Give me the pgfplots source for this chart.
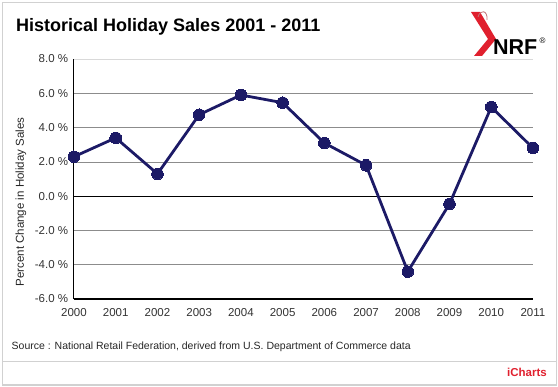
\documentclass[border=0pt]{standalone}
\usepackage{pgfplots}
\pgfplotsset{compat=1.18}
\usepackage{fontspec}
\setmainfont{Liberation Sans}
\definecolor{navy}{HTML}{1C1A66}
\definecolor{nrfred}{HTML}{E0202E}
\begin{document}
\begin{tikzpicture}
\begin{scope}[x=1pt,y=1pt]
\useasboundingbox (0,0) rectangle (558,-387);
\draw[black!18, line width=1.2pt] (2.5,-2.5) rectangle (556.5,-385);
\draw[black!18, line width=1pt] (2.5,-361.7) -- (556.5,-361.7);
\node[anchor=base west, font=\bfseries\fontsize{18}{20}\selectfont, inner sep=0] at (16,-31.7) {Historical Holiday Sales 2001 - 2011};
% logo
\fill[nrfred] (471,-12) -- (480,-12) -- (496,-39) -- (482,-56) -- (474,-56) -- (488,-39) -- cycle;
\draw[nrfred!70!black!60, line width=0.8pt] (478,-17) .. controls (480,-9) and (488,-10) .. (487,-20);
\node[anchor=base west, font=\bfseries\fontsize{21.5}{23}\selectfont, inner sep=0] at (493,-55) {NRF};
\node[anchor=base west, font=\fontsize{8}{9}\selectfont, inner sep=0] at (539.5,-44) {\textregistered};
\node[anchor=base west, font=\fontsize{10.5}{12}\selectfont, text=black!85, inner sep=0] at (11.5,-349.3) {Source : National Retail Federation, derived from U.S. Department of Commerce data};
\node[anchor=base east, font=\bfseries\fontsize{11.5}{13}\selectfont, text=nrfred, inner sep=0] at (547,-376.7) {iCharts};
\end{scope}
\begin{axis}[
  at={(74pt,-299pt)}, anchor=south west,
  scale only axis, width=459pt, height=240pt,
  xmin=2000, xmax=2011, ymin=-6, ymax=8,
  xtick={2000,...,2011},
  ytick={-6,-4,...,8},
  xticklabel style={/pgf/number format/1000 sep={}, font=\fontsize{11.5}{13}\selectfont, text=black!80},
  x tick label style={/pgf/number format/assume math mode=true},
  y tick label style={font=\fontsize{11.5}{13}\selectfont, text=black!80},
  yticklabel={\pgfmathprintnumber[fixed,fixed zerofill,precision=1,assume math mode=true]{\tick}~\%},
  ylabel={Percent Change in Holiday Sales},
  ylabel style={font=\fontsize{11.5}{13}\selectfont, text=black!85, at={(axis description cs:-0.1155,0.404)}, anchor=center},
  axis x line=bottom, axis y line=left,
  x axis line style={-, line width=1.6pt},
  y axis line style={-, line width=1pt},
  major tick length=0pt,
  ymajorgrids, grid style={black!45, line width=0.7pt},
  clip=false,
  tick label style={inner sep=2pt},
  xticklabel style={yshift=-7.5pt},
  yticklabel style={xshift=-3.7pt},
]
\addplot[black!15, line width=0.8pt, forget plot] coordinates {(2000,8) (2011,8)};
\addplot[black, line width=1.1pt, forget plot] coordinates {(2000,0) (2011,0)};
\addplot[navy, line width=2.8pt, mark=*, mark size=5.8pt, mark options={fill=navy, draw=navy, line width=0pt}] coordinates {
(2000,2.3) (2001,3.4) (2002,1.3) (2003,4.75) (2004,5.9) (2005,5.45) (2006,3.1) (2007,1.8) (2008,-4.4) (2009,-0.45) (2010,5.2) (2011,2.8)};
\end{axis}
\end{tikzpicture}
\end{document}
